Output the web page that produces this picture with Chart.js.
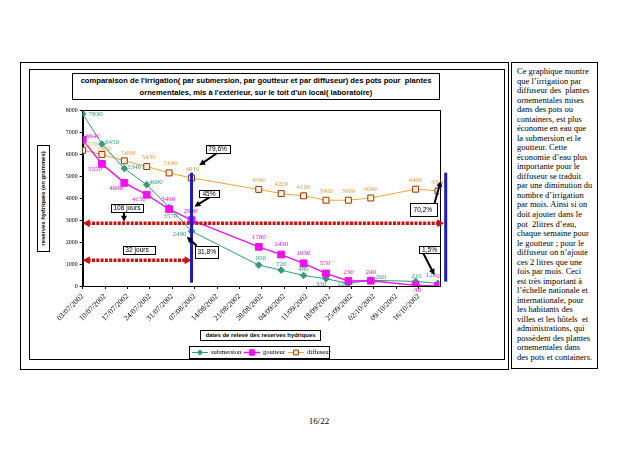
<!DOCTYPE html>
<html>
<head>
<meta charset="utf-8">
<script src="https://cdn.jsdelivr.net/npm/chart.js@4.4.0/dist/chart.umd.min.js"></script>
<style>
  html, body { margin: 0; padding: 0; background: #fff; }
  body { width: 638px; height: 451px; position: relative; overflow: hidden; }
  .box { position: absolute; box-sizing: border-box; border: 1px solid #000; background: transparent; }
  .sans { font-family: 'Liberation Sans', Arial, sans-serif; font-weight: bold; color: #000; white-space: nowrap; }
  #title { left: 72px; top: 73px; width: 368px; height: 27px; font-size: 7.6px; line-height: 12px; text-align: center; padding-top: 1px; }
  #ytitle { left: -10px; top: 192px; width: 107px; height: 13px; transform: rotate(-90deg); font-size: 5.9px; line-height: 11px; text-align: center; }
  #xtitle { left: 200px; top: 330px; width: 121px; height: 11px; font-size: 5.9px; line-height: 9px; text-align: center; }
  #note { left: 511px; top: 62px; width: 87px; height: 307px; padding: 4px 0 0 5px;
          font-family: 'Liberation Serif', 'Times New Roman', serif; font-size: 8.5px; line-height: 9.53px; color: #000; white-space: nowrap; }
  #page { position: absolute; left: 0; width: 638px; top: 416px; text-align: center;
          font-family: 'Liberation Serif', 'Times New Roman', serif; font-size: 9px; color: #000; }
  #chart { position: absolute; left: 0; top: 0; }
</style>
</head>
<body>
<div class="box" style="left:20px; top:62px; width:489px; height:308px;"></div>
<div class="box" style="left:29px; top:69px; width:476px; height:291px;"></div>
<div class="box sans" id="title">comparaison de l'irrigation( par submersion, par goutteur et par diffuseur) des pots pour&nbsp; plantes<br>ornementales, mis à l'extérieur, sur le toit d'un local( laboratoire)</div>
<div class="box sans" id="ytitle">reserves hydriques (en grammes)</div>
<div class="box sans" id="xtitle">dates de relevé des reserves hydriques</div>
<div class="box" id="note">Ce graphique montre<br>que l’irrigation par<br>diffuseur des&nbsp; plantes<br>ornementales mises<br>dans des pots ou<br>containers, est plus<br>économe en eau que<br>la submersion et le<br>goutteur. Cette<br>économie d’eau plus<br>importante pour le<br>diffuseur se traduit<br>par une diminution du<br>nombre d’irrigation<br>par mois. Ainsi si on<br>doit ajouter dans le<br>pot&nbsp; 2litres d’eau,<br>chaque semaine pour<br>le goutteur ; pour le<br>diffuseur on n’ajoute<br>ces 2 litres que une<br>fois par mois. Ceci<br>est très important à<br>l’échelle nationale et<br>internationale, pour<br>les habitants des<br>villes et les hôtels&nbsp; et<br>administrations, qui<br>possèdent des plantes<br>ornementales dans<br>des pots et containers.</div>
<div id="page">16/22</div>
<canvas id="chart" width="638" height="451"></canvas>

<script>
// relevés (dates de mesure) et réserves hydriques en grammes
const sampleDates = ['03/07/2002', '09/07/2002', '16/07/2002', '23/07/2002', '30/07/2002', '06/08/2002',
  '27/08/2002', '03/09/2002', '10/09/2002', '17/09/2002', '24/09/2002', '01/10/2002', '15/10/2002', '22/10/2002'];
const submersion = [7830, 6450, 5340, 4600, 3570, 2490, 950, 720, 480, 330, 120, 260, 210, 120];
const goutteur = [6640, 5550, 4690, 4150, 3490, 2990, 1780, 1430, 1030, 570, 230, 240, 30, 0];
const diffuseur = [6170, 5980, 5690, 5430, 5140, 4910, 4390, 4200, 4100, 3900, 3900, 4000, 4400, 4320];

const tickDates = ['03/07/2002', '10/07/2002', '17/07/2002', '24/07/2002', '31/07/2002', '07/08/2002',
  '14/08/2002', '21/08/2002', '28/08/2002', '04/09/2002', '11/09/2002', '18/09/2002', '25/09/2002',
  '02/10/2002', '09/10/2002', '16/10/2002'];
const yMax = 8000;
const yStep = 1000;

// where each value label sits, relative to its point (px)
const tealLabelPos = [[13, 0], [10, -2], [10, -1], [9, -3], [1, 9], [-12, 3], [2, -7], [0, -6], [0, -6], [-5, 5], [-6, 1], [10, -3], [1, -5], [-7, -8]];
const pinkLabelPos = [[10, -4], [-7, 5], [-8, 5], [-8, 4], [-1, -10], [-1, -9], [0, -10], [0, -10], [0, -10], [-1, -10], [0, -9], [0, -9], [2, 5], [0, -10]];
const orangeLabelPos = [[8, -6], [2, -5], [4, -8], [2, -9], [1, -10], [1, -9], [0, -9], [0, -9], [0, -9], [0, -9], [0, -9], [0, -9], [0, -9], [0, -9]];

// annotations, in chart units (days since 03/07, grams)
const redArrows = [{ y: 2850, x0: 0, x1: 112.9 }, { y: 1170, x0: 0, x1: 34 }];
const blueLines = [{ x: 34, y0: 5150, y1: 150 }, { x: 113.4, y0: 5150, y1: 200 }];
const callouts = [
  { text: '79,6%', box: [38.4, 45.9, 6409, 6059], from: [41.9, 6032], to: [36.4, 5486] },
  { text: '45%', box: [36.4, 42.5, 4364, 4032], from: [39.6, 4032], to: [34.9, 3605] },
  { text: '31,8%', box: [35.1, 42.4, 1832, 1305], from: [35.6, 1832], to: [32.5, 2241] },
  { text: '108 jours', box: [8.9, 18.75, 3727, 3350], from: [12.9, 3350], to: [12.9, 2923] },
  { text: '32 jours', box: [12.7, 22.8, 1832, 1486], left: true },
  { text: '70,2%', box: [102.1, 110.4, 3759, 3150], from: [109.9, 3759], to: [111.9, 4786] },
  { text: '1,5%', box: [105, 111.7, 1818, 1486], from: [106.4, 1486], to: [109.9, 500] }
];

const teal = '#33997f';
const pink = '#ee11ee';
const orange = '#f2a33a';
const red = '#cc1111';
const blue = '#1a1abf';
const serif = "'Liberation Serif', 'Times New Roman', serif";
const sans = "'Liberation Sans', Arial, sans-serif";

const start = Date.UTC(2002, 6, 3);
function dayOf(s) {
  const [d, m, y] = s.split('/').map(Number);
  return (Date.UTC(y, m - 1, d) - start) / 864e5;
}
function toPoints(values) {
  return values.map((v, i) => ({ x: dayOf(sampleDates[i]), y: v }));
}

function arrow(ctx, x0, y0, x1, y1) {
  const ang = Math.atan2(y1 - y0, x1 - x0);
  const hl = 6, hw = 3;
  ctx.beginPath();
  ctx.moveTo(x0, y0);
  ctx.lineTo(x1 - Math.cos(ang) * hl * 0.8, y1 - Math.sin(ang) * hl * 0.8);
  ctx.stroke();
  ctx.beginPath();
  ctx.moveTo(x1, y1);
  ctx.lineTo(x1 - Math.cos(ang) * hl - Math.sin(ang) * hw, y1 - Math.sin(ang) * hl + Math.cos(ang) * hw);
  ctx.lineTo(x1 - Math.cos(ang) * hl + Math.sin(ang) * hw, y1 - Math.sin(ang) * hl - Math.cos(ang) * hw);
  ctx.closePath();
  ctx.fill();
}

function drawMarker(ctx, ds, x, y) {
  ctx.save();
  ctx.fillStyle = ds.pointBackgroundColor;
  ctx.strokeStyle = ds.pointBorderColor;
  ctx.lineWidth = ds.pointBorderWidth;
  Chart.helpers.drawPoint(ctx, { pointStyle: ds.pointStyle, radius: ds.pointRadius * 0.8, rotation: 0, borderWidth: ds.pointBorderWidth }, x, y);
  ctx.restore();
}

const overlay = {
  id: 'overlay',
  beforeDatasetsDraw(chart) {
    const { ctx, chartArea: a } = chart;
    ctx.save();
    ctx.strokeStyle = '#000';
    ctx.lineWidth = 1;
    ctx.strokeRect(Math.round(a.left) + 0.5, Math.round(a.top) + 0.5, Math.round(a.right - a.left), Math.round(a.bottom - a.top));
    ctx.restore();
  },
  afterDatasetsDraw(chart) {
    const { ctx, scales: { x, y } } = chart;
    const px = v => x.getPixelForValue(v);
    const py = v => y.getPixelForValue(v);
    ctx.save();

    // value labels
    const labelSets = [[tealLabelPos, teal], [pinkLabelPos, pink], [orangeLabelPos, '#e8a040']];
    ctx.font = '7px ' + serif;
    ctx.textAlign = 'center';
    ctx.textBaseline = 'middle';
    chart.data.datasets.forEach((ds, di) => {
      const meta = chart.getDatasetMeta(di);
      const [pos, col] = labelSets[di];
      ctx.fillStyle = col;
      meta.data.forEach((pt, i) => {
        ctx.fillText(String(ds.data[i].y), pt.x + pos[i][0], pt.y + pos[i][1]);
      });
    });

    // red dotted double arrows
    redArrows.forEach(r => {
      const x0 = px(r.x0), x1 = px(r.x1), yy = py(r.y);
      ctx.strokeStyle = red;
      ctx.fillStyle = red;
      ctx.lineWidth = 3.5;
      ctx.setLineDash([3, 1.3]);
      ctx.beginPath();
      ctx.moveTo(x0 + 5, yy);
      ctx.lineTo(x1 - 5, yy);
      ctx.stroke();
      ctx.setLineDash([]);
      ctx.beginPath();
      ctx.moveTo(x0, yy); ctx.lineTo(x0 + 7, yy - 4); ctx.lineTo(x0 + 7, yy + 4); ctx.closePath(); ctx.fill();
      ctx.beginPath();
      ctx.moveTo(x1, yy); ctx.lineTo(x1 - 7, yy - 4); ctx.lineTo(x1 - 7, yy + 4); ctx.closePath(); ctx.fill();
    });

    // blue vertical lines
    ctx.strokeStyle = blue;
    ctx.lineWidth = 3;
    blueLines.forEach(b => {
      ctx.beginPath();
      ctx.moveTo(px(b.x), py(b.y0));
      ctx.lineTo(px(b.x), py(b.y1));
      ctx.stroke();
    });

    // boxed callouts with arrows
    ctx.font = '6.6px ' + sans;
    ctx.textBaseline = 'middle';
    callouts.forEach(c => {
      const l = px(c.box[0]), r = px(c.box[1]), t = py(c.box[2]), b = py(c.box[3]);
      ctx.fillStyle = '#fff';
      ctx.fillRect(l, t, r - l, b - t);
      ctx.strokeStyle = '#000';
      ctx.lineWidth = 1;
      ctx.strokeRect(Math.round(l) + 0.5, Math.round(t) + 0.5, Math.round(r - l), Math.round(b - t));
      ctx.fillStyle = '#000';
      ctx.textAlign = c.left ? 'left' : 'center';
      ctx.fillText(c.text, c.left ? l + 2 : (l + r) / 2, (t + b) / 2 + 0.5);
      if (c.from) {
        ctx.lineWidth = 2;
        arrow(ctx, px(c.from[0]), py(c.from[1]), px(c.to[0]), py(c.to[1]));
      }
    });

    // legend
    const lx = 189, ly = 346, lw = 140, lh = 12;
    ctx.strokeStyle = '#000';
    ctx.lineWidth = 1;
    ctx.strokeRect(lx + 0.5, ly + 0.5, lw, lh);
    const itemX = [192, 244, 288];
    ctx.font = '6.6px ' + serif;
    ctx.textAlign = 'left';
    chart.data.datasets.forEach((ds, di) => {
      const sx = itemX[di], sy = ly + lh / 2 + 0.5;
      ctx.strokeStyle = ds.borderColor;
      ctx.lineWidth = ds.borderWidth;
      ctx.beginPath();
      ctx.moveTo(sx, sy);
      ctx.lineTo(sx + 16, sy);
      ctx.stroke();
      drawMarker(ctx, ds, sx + 8, sy);
      ctx.fillStyle = '#000';
      ctx.fillText(ds.label, sx + 19, sy);
    });
    ctx.restore();
  }
};

new Chart(document.getElementById('chart'), {
  type: 'line',
  data: {
    datasets: [
      { label: 'submersion', data: toPoints(submersion), borderColor: teal, borderWidth: 1,
        pointStyle: 'rectRot', pointRadius: 3.3, pointBackgroundColor: teal, pointBorderColor: teal, pointBorderWidth: 1, order: 2 },
      { label: 'goutteur', data: toPoints(goutteur), borderColor: pink, borderWidth: 1.4,
        pointStyle: 'rect', pointRadius: 4.8, pointBackgroundColor: pink, pointBorderColor: pink, pointBorderWidth: 1, order: 1 },
      { label: 'diffuseur', data: toPoints(diffuseur), borderColor: orange, borderWidth: 1,
        pointStyle: 'rect', pointRadius: 4.2, pointBackgroundColor: '#fff3e0', pointBorderColor: '#993300', pointBorderWidth: 1, order: 3 }
    ]
  },
  options: {
    responsive: false,
    animation: false,
    events: [],
    layout: { padding: { top: 110, left: 0, right: 198.7, bottom: 0 } },
    elements: { line: { tension: 0, fill: false } },
    plugins: { legend: { display: false }, tooltip: { enabled: false } },
    scales: {
      x: {
        type: 'linear',
        min: 0,
        max: 111.4,
        afterBuildTicks: s => { s.ticks = tickDates.map(t => ({ value: dayOf(t) })); },
        afterFit: s => { s.height = 165; },
        grid: { display: true, drawOnChartArea: false, drawTicks: true, tickLength: 3, color: '#000' },
        border: { display: true, color: '#000', width: 1 },
        ticks: {
          autoSkip: false,
          minRotation: 45,
          maxRotation: 45,
          padding: 3,
          color: '#000',
          font: { family: serif, size: 7.6 },
          callback: (v, i) => tickDates[i]
        }
      },
      y: {
        min: 0,
        max: yMax,
        afterFit: s => { s.width = 82.7; },
        grid: { display: true, drawOnChartArea: false, drawTicks: true, tickLength: 3, color: '#000' },
        border: { display: true, color: '#000', width: 1 },
        ticks: { stepSize: yStep, padding: 2, color: '#000', font: { family: serif, size: 6 }, callback: v => String(v) }
      }
    }
  },
  plugins: [overlay]
});
</script>
</body>
</html>
